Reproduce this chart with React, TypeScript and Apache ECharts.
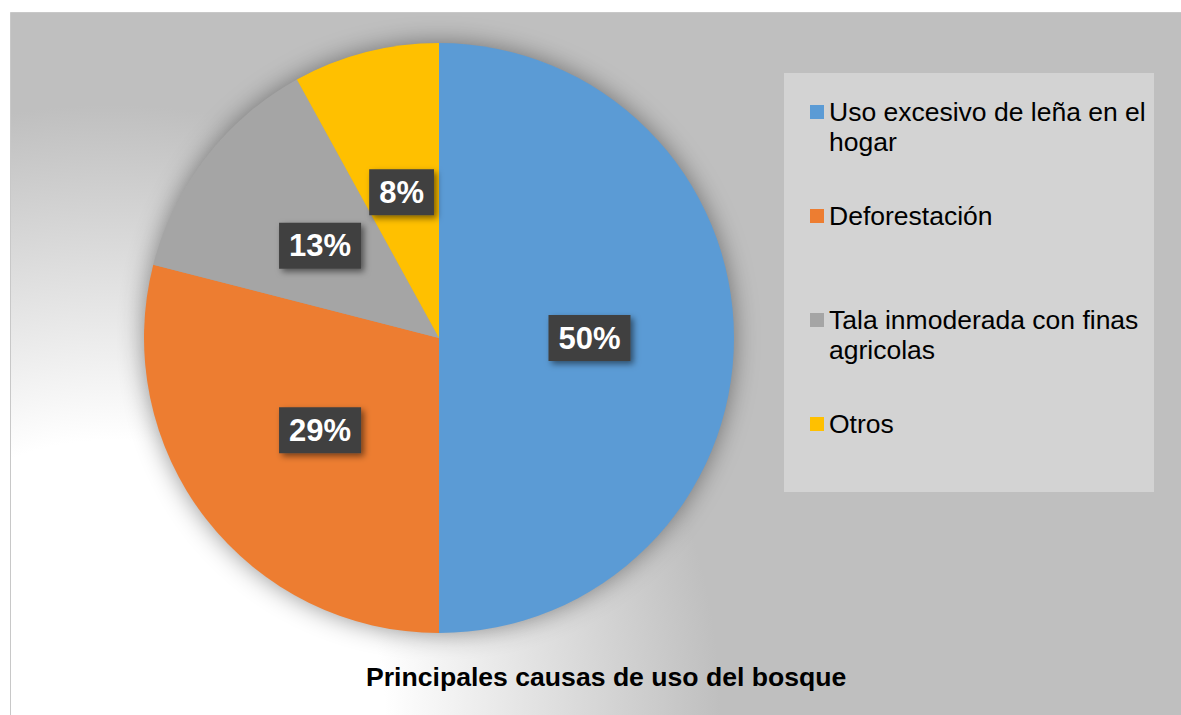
import React, { useEffect, useRef } from "react";
import * as echarts from "echarts";

const categories = [
  "Uso excesivo de leña en el hogar",
  "Deforestación",
  "Tala inmoderada con finas agricolas",
  "Otros",
];
const values = [50, 29, 13, 8];
const colors = ["#5b9bd5", "#ed7d31", "#a5a5a5", "#ffc000"];
const chartTitle = "Principales causas de uso del bosque";

const FONT = '"Liberation Sans", Arial, Helvetica, sans-serif';
const LEGEND_FONT_SIZE = 26.5;
const LEGEND_TEXT_WIDTH = 325;

export default function App() {
  const ref = useRef<HTMLDivElement>(null);

  useEffect(() => {
    if (!ref.current) return;
    const ctx = document.createElement("canvas").getContext("2d");
    const measure = (s: string) => {
      if (!ctx) return 0;
      ctx.font = `${LEGEND_FONT_SIZE}px ${FONT}`;
      return ctx.measureText(s).width;
    };
    const wrap = (s: string) => {
      const words = s.split(" ");
      const lines: string[] = [];
      let cur = "";
      for (const w of words) {
        const test = cur ? cur + " " + w : w;
        if (cur && measure(test) > LEGEND_TEXT_WIDTH) {
          lines.push(cur);
          cur = w;
        } else {
          cur = test;
        }
      }
      if (cur) lines.push(cur);
      return lines;
    };
    const chart = echarts.init(ref.current, null, { renderer: "svg" });
    const option: any = {
      animation: false,
      title: {
        text: chartTitle,
        left: 366,
        top: 663,
        padding: 0,
        textStyle: {
          fontFamily: FONT,
          fontSize: 26.6,
          fontWeight: "bold",
          color: "#000",
        },
      },
      legend: {
        orient: "vertical",
        left: 810,
        top: 67,
        padding: 0,
        itemWidth: 14,
        itemHeight: 14,
        itemGap: 44,
        icon: "rect",
        selectedMode: false,
        data: categories,
        z: 6,
        // wrapped names get blank leading lines so that the marker sits on the first text line
        formatter: (name: string) => {
          const lines = wrap(name);
          const pad = new Array(lines.length - 1).fill(" ");
          return pad.concat(lines).join("\n");
        },
        textStyle: {
          fontFamily: FONT,
          fontSize: LEGEND_FONT_SIZE,
          color: "#000",
          lineHeight: 30,
        },
      },
      graphic: [
        {
          type: "rect",
          z: -20,
          silent: true,
          shape: { x: 10.5, y: 12.5, width: 1180, height: 710 },
          style: {
            fill: new echarts.graphic.RadialGradient(
              110,
              715,
              610,
              [
                { offset: 0, color: "#ffffff" },
                { offset: 0.45, color: "#ffffff" },
                { offset: 1, color: "#bfbfbf" },
              ],
              true
            ),
            stroke: "#c8c8c8",
            lineWidth: 1,
          },
        },
        {
          type: "circle",
          z: -10,
          silent: true,
          shape: { cx: 439, cy: 338, r: 294 },
          style: {
            fill: "#a0a0a0",
            shadowBlur: 26,
            shadowColor: "rgba(0,0,0,0.45)",
          },
        },
        {
          type: "rect",
          z: -5,
          silent: true,
          shape: { x: 784, y: 73, width: 370, height: 419 },
          style: { fill: "#d3d3d3" },
        },
      ],
      series: [
        {
          type: "pie",
          center: [439, 338],
          radius: 295,
          startAngle: 90,
          clockwise: true,
          avoidLabelOverlap: false,
          emphasis: { disabled: true },
          labelLine: { show: false },
          data: categories.map((name, i) => ({
            name,
            value: values[i],
            itemStyle: { color: colors[i] },
          })),
          label: {
            show: true,
            position: "inside",
            formatter: "{c}%",
            fontFamily: FONT,
            fontSize: 31,
            fontWeight: "bold",
            color: "#ffffff",
            backgroundColor: "#404040",
            padding: [6, 10],
            lineHeight: 34,
            shadowBlur: 6,
            shadowOffsetX: 3,
            shadowOffsetY: 3,
            shadowColor: "rgba(0,0,0,0.5)",
          },
        },
      ],
    };
    chart.setOption(option);
    return () => chart.dispose();
  }, []);

  return (
    <div
      ref={ref}
      style={{ position: "absolute", left: 0, top: 0, width: 1181, height: 715 }}
    />
  );
}
